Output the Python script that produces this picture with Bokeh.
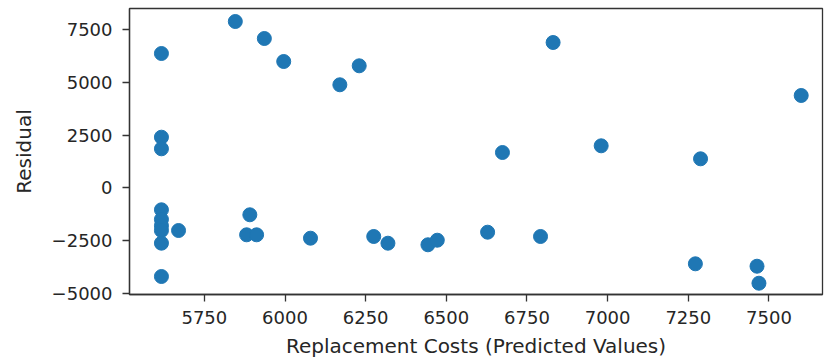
from bokeh.plotting import figure
from bokeh.models import Range1d, FixedTicker, ColumnDataSource
from bokeh.embed import file_html
from bokeh.resources import INLINE

# Data
predicted = [5617, 5617, 5617, 5617, 5617, 5617, 5617, 5617, 5617,
             5670, 5846, 5936, 5996, 5891, 5881, 5912,
             6170, 6230, 6831, 6674, 6079, 6275, 6319, 6443, 6472, 6628, 6792,
             6980, 7288, 7600, 7272, 7463, 7469]
residual = [6374, 2402, 1851, -1044, -1500, -1800, -2027, -2629, -4210,
            -2027, 7893, 7086, 5994, -1281, -2231, -2231,
            4889, 5790, 6896, 1675, -2392, -2311, -2629, -2705, -2487, -2107, -2311,
            1993, 1376, 4381, -3607, -3721, -4528]

x_ticks = [5750, 6000, 6250, 6500, 6750, 7000, 7250, 7500]
y_ticks = [-5000, -2500, 0, 2500, 5000, 7500]
y_tick_labels = ["\u22125000", "\u22122500", "0", "2500", "5000", "7500"]
x_label = "Replacement Costs (Predicted Values)"
y_label = "Residual"

src = ColumnDataSource(dict(x=predicted, y=residual))

p = figure(width=825, height=362, output_backend="svg", toolbar_location=None,
           x_range=Range1d(5518, 7666), y_range=Range1d(-5064, 8510),
           min_border_left=129, min_border_right=3, min_border_top=8, min_border_bottom=68)

p.scatter("x", "y", source=src, size=14, fill_color="#1f77b4", line_color="#1f77b4")

p.xgrid.visible = False
p.ygrid.visible = False
p.outline_line_color = "#333333"
p.outline_line_width = 1.3
p.background_fill_color = "white"
p.border_fill_color = "white"

p.xaxis.ticker = FixedTicker(ticks=x_ticks)
p.yaxis.ticker = FixedTicker(ticks=y_ticks)
p.yaxis.major_label_overrides = {t: l for t, l in zip(y_ticks, y_tick_labels)}
p.xaxis.major_label_overrides = {t: str(t) for t in x_ticks}

for ax in (p.xaxis[0], p.yaxis[0]):
    ax.axis_line_color = "#333333"
    ax.axis_line_width = 1.3
    ax.major_tick_line_color = "#333333"
    ax.major_tick_line_width = 1.3
    ax.major_tick_in = 0
    ax.major_tick_out = 7
    ax.minor_tick_line_color = None
    ax.major_label_text_font = "DejaVu Sans"
    ax.major_label_text_font_size = "18px"
    ax.major_label_text_color = "#262626"
    ax.axis_label_text_font = "DejaVu Sans"
    ax.axis_label_text_font_size = "20px"
    ax.axis_label_text_font_style = "normal"
    ax.axis_label_text_color = "#262626"

p.xaxis.major_label_standoff = 9
p.xaxis.axis_label_standoff = 7
p.yaxis.major_label_standoff = 10
p.yaxis.axis_label_standoff = 13

p.xaxis.axis_label = x_label
p.yaxis.axis_label = y_label

open("out.html", "w").write(file_html(p, INLINE))
